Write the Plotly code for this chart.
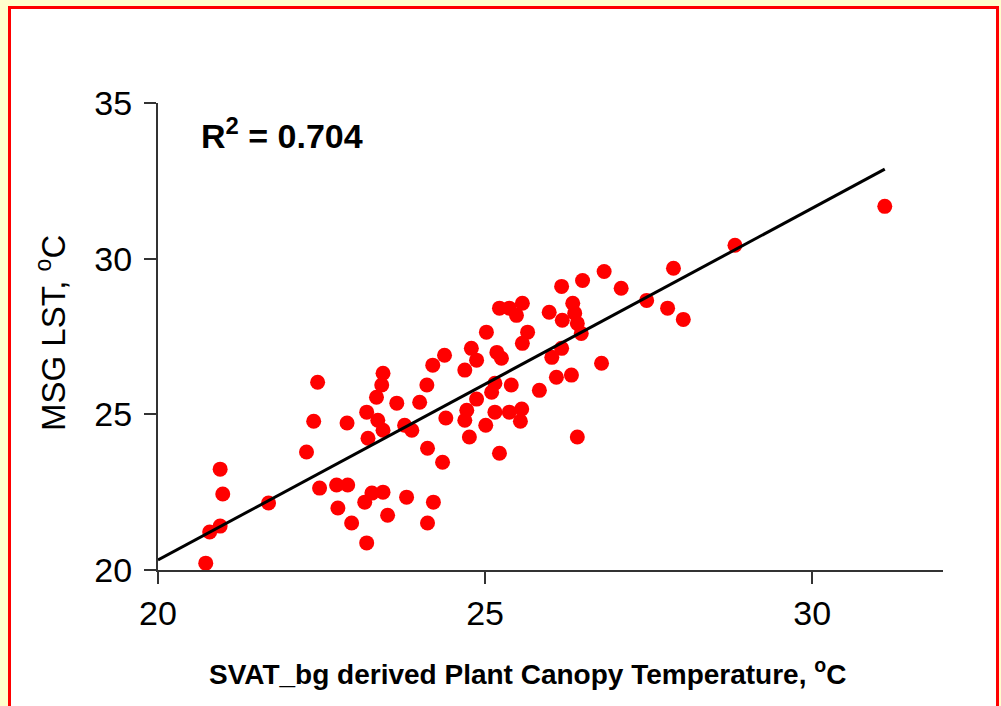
import plotly.graph_objects as go

# SVAT_bg derived plant canopy temperature (x) and MSG LST (y), deg C
canopy_temp = [
    20.73, 20.79, 20.95, 20.95, 20.99, 21.69, 22.27, 22.38, 22.44, 22.47,
    22.73, 22.90, 22.75, 22.96, 22.89, 23.19, 23.27, 23.16, 23.44, 23.51,
    23.80, 24.21, 24.12, 23.44, 23.42, 23.34, 23.65, 23.19, 23.36, 23.44,
    23.21, 23.77, 23.88, 24.20, 24.11, 24.00, 24.38, 24.79, 24.87, 24.69,
    24.87, 24.40, 24.72, 24.69, 25.01, 24.76, 25.15, 25.37, 25.56, 25.54,
    25.22, 24.35, 24.12, 25.02, 25.22, 25.37, 25.57, 25.48, 25.98, 26.34,
    26.37, 26.18, 26.41, 26.47, 25.65, 25.57, 25.18, 25.25, 26.02, 26.17,
    26.78, 26.09, 26.32, 25.83, 25.40, 25.15, 25.10, 26.41, 26.17, 26.49,
    26.82, 27.08, 27.47, 27.88, 27.79, 28.03, 28.82, 31.11,
]
msg_lst = [
    20.22, 21.22, 21.41, 23.24, 22.44, 22.15, 23.79, 24.78, 26.03, 22.63,
    22.73, 22.73, 21.99, 21.51, 24.72, 20.87, 22.47, 22.18, 22.50, 21.76,
    22.34, 22.18, 21.51, 26.32, 25.94, 25.55, 25.36, 25.07, 24.81, 24.49,
    24.23, 24.65, 24.49, 26.58, 25.94, 25.39, 26.90, 27.12, 26.74, 26.42,
    25.49, 24.88, 25.13, 24.81, 24.65, 24.27, 25.07, 25.07, 25.17, 24.78,
    23.75, 23.46, 23.91, 27.64, 28.41, 28.41, 28.57, 28.18, 28.28, 28.57,
    28.25, 28.02, 27.92, 27.60, 27.64, 27.28, 26.99, 26.80, 26.83, 27.12,
    26.64, 26.19, 26.26, 25.77, 25.94, 26.00, 25.71, 24.27, 29.11, 29.30,
    29.59, 29.05, 28.66, 29.69, 28.41, 28.05, 30.43, 31.68,
]

# linear trend line
trend_slope = 1.130
trend_intercept = -2.28
trend_x_start = 20.0

x_ticks = [20, 25, 30]
y_ticks = [20, 25, 30, 35]
r2_label = "R<sup>2</sup> = 0.704"
x_title = "SVAT_bg derived Plant Canopy Temperature, <sup>o</sup>C"
y_title = "MSG LST, <sup>o</sup>C"

fit_x = [trend_x_start, max(canopy_temp)]
fit_y = [trend_slope * v + trend_intercept for v in fit_x]

W, H = 1001, 706
L, R, T, B = 158, 58, 103, 136
pw, ph = W - L - R, H - T - B


def px(xp):
    return (xp - L) / pw


def py(yp):
    return (H - B - yp) / ph


FONT = "Liberation Sans, Arial, sans-serif"

fig = go.Figure()
fig.add_trace(go.Scatter(
    x=canopy_temp, y=msg_lst, mode="markers",
    marker=dict(color="#FF0000", size=15, line=dict(width=0)),
    showlegend=False, hoverinfo="x+y",
))
fig.add_trace(go.Scatter(
    x=fit_x, y=fit_y, mode="lines",
    line=dict(color="black", width=3),
    showlegend=False, hoverinfo="skip",
))

axis_common = dict(
    showline=True, linecolor="#333333", linewidth=2,
    ticks="outside", ticklen=12, tickwidth=2, tickcolor="#333333",
    showgrid=False, zeroline=False,
    tickfont=dict(family=FONT, size=34, color="black"),
)

fig.update_layout(
    width=W, height=H,
    margin=dict(l=L, r=R, t=T, b=B, pad=0),
    paper_bgcolor="#FFFFCC",
    plot_bgcolor="white",
    xaxis=dict(range=[20, 32], tickvals=x_ticks, **axis_common),
    yaxis=dict(range=[20, 35], tickvals=y_ticks, ticklabelstandoff=5,
               **axis_common),
    shapes=[dict(
        type="rect", xref="paper", yref="paper", layer="below",
        x0=px(9.5), x1=px(997.5), y0=py(730), y1=py(7.5),
        line=dict(color="#FF0000", width=3), fillcolor="white",
    )],
    annotations=[
        dict(text=r2_label, xref="paper", yref="paper",
             x=px(199), y=py(133), xanchor="left", yanchor="middle",
             showarrow=False,
             font=dict(family=FONT, size=34, color="black", weight="bold")),
        dict(text=x_title, xref="paper", yref="paper",
             x=px(527), y=py(672), xanchor="center", yanchor="middle",
             showarrow=False,
             font=dict(family=FONT, size=28, color="black", weight="bold")),
        dict(text=y_title, xref="paper", yref="paper", textangle=-90,
             x=px(51), y=py(333), xanchor="center", yanchor="middle",
             showarrow=False,
             font=dict(family=FONT, size=33, color="black")),
    ],
)

fig.write_html("out.html",
               config={"displayModeBar": False},
               post_script="document.body.style.margin='0';"
                           "document.body.style.overflow='hidden';")
